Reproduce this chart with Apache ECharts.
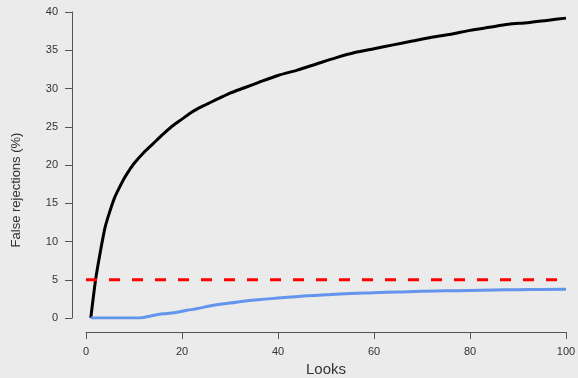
<!DOCTYPE html>
<html>
<head>
<meta charset="utf-8">
<script src="https://cdn.jsdelivr.net/npm/echarts@6/dist/echarts.min.js"></script>
<style>
  html, body { margin: 0; padding: 0; background: #ebebeb; }
  #chart { width: 578px; height: 378px; }
</style>
</head>
<body>
<div id="chart"></div>
<script>
// looks / false rejection rates
var sequentialLooks = [1, 2, 3, 4, 5, 6, 7, 8, 9, 10, 12, 14, 16, 18, 20, 22, 24, 26, 28, 30,
  33, 36, 40, 44, 48, 52, 56, 60, 64, 68, 72, 76, 80, 84, 88, 92, 96, 100];
var sequentialRate = [0, 5.0, 8.7, 11.9, 14.0, 15.8, 17.1, 18.3, 19.3, 20.2, 21.6, 22.8, 24.0, 25.1, 26.0, 26.9, 27.6, 28.2, 28.8, 29.4,
  30.1, 30.8, 31.7, 32.4, 33.2, 34.0, 34.7, 35.2, 35.7, 36.2, 36.7, 37.1, 37.6, 38.0, 38.4, 38.6, 38.9, 39.2];

var correctedLooks = [1, 11, 13, 15, 17, 19, 21, 23, 26, 30, 34, 38, 42, 46, 50, 55, 60, 65, 70, 75, 80, 85, 90, 95, 100];
var correctedRate = [0, 0, 0.2, 0.45, 0.6, 0.75, 1.0, 1.2, 1.6, 1.95, 2.3, 2.5, 2.7, 2.9, 3.05, 3.2, 3.3, 3.4, 3.5, 3.55, 3.6, 3.65, 3.7, 3.72, 3.75];

var alphaLooks = [0, 100];
var alphaRate = [5, 5];

var xTicks = [0, 20, 40, 60, 80, 100];
var yTicks = [0, 5, 10, 15, 20, 25, 30, 35, 40];

function pairs(xs, ys) {
  return xs.map(function (x, i) { return [x, ys[i]]; });
}

var chart = echarts.init(document.getElementById('chart'));

var axisCol = '#555555';
var txtCol = '#333333';
var font = 'Liberation Sans, Arial, sans-serif';

var option = {
  backgroundColor: '#ebebeb',
  animation: false,
  grid: { left: 86, right: 12, top: 12, bottom: 60, containLabel: false, outerBoundsMode: 'none' },
  graphic: [{
    type: 'text',
    x: 16, y: 190,
    rotation: Math.PI / 2,
    style: {
      text: 'False rejections (%)',
      fill: txtCol,
      font: '13px ' + font,
      align: 'center',
      verticalAlign: 'middle'
    }
  }],
  xAxis: {
    type: 'value',
    min: xTicks[0], max: xTicks[xTicks.length - 1], interval: 20,
    offset: 14,
    splitLine: { show: false },
    axisLine: { show: true, onZero: false, lineStyle: { color: axisCol, width: 1 } },
    axisTick: { show: true, inside: false, length: 7, lineStyle: { color: axisCol } },
    axisLabel: { margin: 14, color: txtCol, fontSize: 11, fontFamily: font },
    name: 'Looks',
    nameLocation: 'middle',
    nameGap: 30,
    nameTextStyle: { color: txtCol, fontSize: 15, fontFamily: font }
  },
  yAxis: {
    type: 'value',
    min: yTicks[0], max: yTicks[yTicks.length - 1], interval: 5,
    offset: 14,
    splitLine: { show: false },
    axisLine: { show: true, onZero: false, lineStyle: { color: axisCol, width: 1 } },
    axisTick: { show: true, inside: false, length: 7, lineStyle: { color: axisCol } },
    axisLabel: { margin: 14, color: txtCol, fontSize: 11, fontFamily: font }
  },
  series: [
    {
      name: 'naive',
      type: 'line',
      data: pairs(sequentialLooks, sequentialRate),
      showSymbol: false,
      smooth: 0.25,
      lineStyle: { color: '#000000', width: 3 },
      z: 2
    },
    {
      name: 'alpha',
      type: 'line',
      data: pairs(alphaLooks, alphaRate),
      showSymbol: false,
      lineStyle: { color: '#ff0000', width: 3, type: [11, 12] },
      z: 3
    },
    {
      name: 'corrected',
      type: 'line',
      data: pairs(correctedLooks, correctedRate),
      showSymbol: false,
      smooth: true,
      lineStyle: { color: '#6495ed', width: 3 },
      z: 4
    }
  ]
};

chart.setOption(option);
</script>
</body>
</html>
